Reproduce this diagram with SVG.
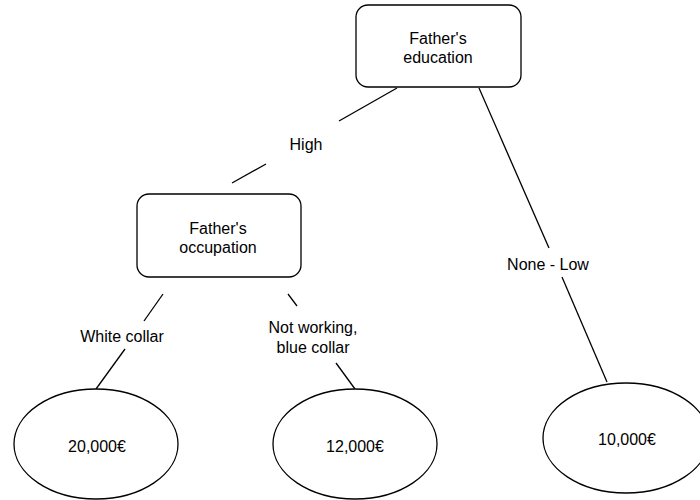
<svg xmlns="http://www.w3.org/2000/svg" width="700" height="500" viewBox="0 0 700 500">
<style>
.node{fill:#fff;stroke:#000;stroke-width:1.3}
.edge{stroke:#000;stroke-width:1.3;fill:none}
.t{font-family:"Liberation Sans",Arial,sans-serif;font-size:16px;fill:#000;text-anchor:middle}
</style>
<rect width="700" height="500" fill="#fff"/>
<g id="connectors">
<line class="edge" x1="397" y1="88" x2="339" y2="121"/>
<line class="edge" x1="266" y1="164" x2="232" y2="183"/>
<line class="edge" x1="479" y1="88" x2="549" y2="248"/>
<line class="edge" x1="562" y1="277" x2="607" y2="382"/>
<line class="edge" x1="163" y1="294" x2="144" y2="321"/>
<line class="edge" x1="125" y1="349" x2="96" y2="389"/>
<line class="edge" x1="288" y1="294" x2="297" y2="306"/>
<line class="edge" x1="336" y1="363" x2="355" y2="389"/>
<text class="t" x="306" y="150">High</text>
<text class="t" x="548" y="270">None - Low</text>
<text class="t" x="122" y="342">White collar</text>
<text class="t" x="313" y="333">Not working,</text>
<text class="t" x="313" y="353">blue collar</text>
</g>
<g id="father-education">
<rect class="node" x="356" y="5" width="165" height="82" rx="12"/>
<text class="t" x="438" y="44">Father's</text>
<text class="t" x="438" y="63">education</text>
</g>
<g id="father-occupation">
<rect class="node" x="137" y="194" width="164" height="83" rx="12"/>
<text class="t" x="218" y="234">Father's</text>
<text class="t" x="218" y="253">occupation</text>
</g>
<g id="leaf-20000">
<ellipse class="node" cx="96" cy="444" rx="82" ry="55"/>
<text class="t" x="97" y="452">20,000€</text>
</g>
<g id="leaf-12000">
<ellipse class="node" cx="355" cy="444" rx="82" ry="55"/>
<text class="t" x="355" y="452">12,000€</text>
</g>
<g id="leaf-10000">
<ellipse class="node" cx="626" cy="438" rx="83" ry="55"/>
<text class="t" x="627" y="445">10,000€</text>
</g>
</svg>
